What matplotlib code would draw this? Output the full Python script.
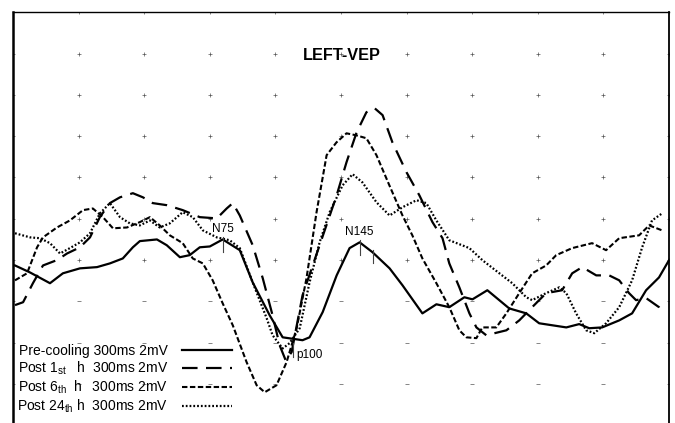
import matplotlib
matplotlib.use("Agg")
import matplotlib.pyplot as plt
import numpy as np

plt.rcParams['font.family'] = ['Liberation Sans', 'DejaVu Sans']
plt.rcParams['mathtext.fontset'] = 'custom'
plt.rcParams['mathtext.rm'] = 'Liberation Sans'

# time in ms (300 ms sweep), amplitude in screen divisions
t_pre = [0.9, 7.8, 16.9, 22.8, 30.6, 38.4, 44.3, 50.2, 54.8, 58.0, 65.8, 70.3,
         76.3, 80.8, 85.4, 90.0, 95.9, 103.7, 109.6, 117.4, 123.3, 132.4, 135.6,
         141.6, 148.0, 153.9, 158.5, 164.4, 172.2, 178.1, 187.2, 193.6, 199.5,
         206.4, 210.1, 216.9, 226.9, 234.7, 240.6, 253.0, 258.9, 263.5, 269.4,
         277.2, 283.1, 289.5, 295.4, 300.0]
y_pre = [3.87, 3.70, 3.44, 3.68, 3.80, 3.83, 3.92, 4.04, 4.31, 4.46, 4.50, 4.36,
         4.07, 4.12, 4.31, 4.33, 4.50, 4.24, 3.46, 2.66, 2.13, 2.06, 2.13,
         2.74, 3.63, 4.29, 4.43, 4.19, 3.80, 3.39, 2.71, 2.93, 2.86,
         3.10, 3.05, 3.27, 2.83, 2.71, 2.47, 2.37, 2.45, 2.35, 2.37,
         2.54, 2.71, 3.27, 3.58, 4.00]

t_1h = [0.9, 4.6, 9.1, 13.7, 20.1, 24.7, 30.6, 35.2, 39.7, 44.3, 48.9, 54.8,
        59.4, 63.9, 70.3, 77.6, 85.4, 93.2, 97.7, 100.5, 103.7, 109.6, 114.2,
        118.7, 121.9, 124.7, 127.4, 132.4, 140.2, 148.0, 152.5, 157.1, 161.6,
        165.3, 169.0, 173.5, 179.9, 185.8, 191.8, 196.4, 199.5, 204.1, 208.7,
        211.9, 216.4, 225.6, 231.5, 237.4, 243.8, 251.1, 255.7, 260.3, 266.7,
        272.6, 277.2, 281.7, 284.9, 289.5, 295.4, 296.8]
y_1h = [2.91, 2.98, 3.44, 3.87, 4.00, 4.16, 4.31, 4.55, 5.04, 5.38, 5.52, 5.62,
        5.52, 5.38, 5.33, 5.21, 5.04, 5.01, 5.25, 5.38, 5.08, 4.36, 3.56,
        2.66, 1.94, 1.57, 1.77, 3.15, 4.36, 5.57, 6.37, 7.09, 7.58,
        7.68, 7.51, 6.85, 6.13, 5.57, 4.92, 4.53, 3.92, 3.34, 2.71,
        2.37, 2.18, 2.30, 2.54, 2.86, 3.20, 3.27, 3.68, 3.83, 3.63,
        3.63, 3.51, 3.20, 3.03, 3.08, 2.86, 2.74]

t_6h = [0.9, 6.4, 11.0, 13.7, 20.1, 26.0, 32.0, 36.5, 41.1, 45.7, 52.1, 58.0,
        62.6, 67.1, 71.7, 77.6, 82.2, 86.8, 91.3, 95.9, 100.5, 106.8, 111.4,
        115.1, 120.5, 125.1, 129.7, 134.2, 138.8, 143.4, 147.9, 152.5, 157.1,
        161.6, 166.2, 172.1, 178.1, 182.6, 187.2, 193.6, 199.5, 204.1, 207.3,
        211.9, 214.6, 221.0, 225.6, 231.5, 237.4, 243.8, 248.4, 255.7, 264.8,
        271.2, 277.2, 286.3, 290.9, 296.8]
y_6h = [3.51, 3.68, 4.31, 4.55, 4.79, 4.96, 5.21, 5.25, 5.04, 4.77, 4.79, 4.92,
        5.04, 4.84, 4.60, 4.41, 4.04, 3.92, 3.51, 2.95, 2.42, 1.53, 0.97,
        0.80, 0.97, 1.53, 2.35, 3.56, 5.16, 6.54, 6.85, 7.07, 7.02,
        6.95, 6.54, 5.81, 5.08, 4.60, 4.04, 3.44, 2.86, 2.30, 2.13,
        2.11, 2.37, 2.37, 2.71, 3.20, 3.68, 3.87, 4.12, 4.29, 4.41,
        4.24, 4.53, 4.60, 4.84, 4.72]

t_24h = [0.9, 7.8, 12.3, 16.9, 21.5, 26.0, 30.6, 35.2, 39.7, 44.3, 48.9, 53.4,
         58.0, 62.6, 67.1, 71.7, 77.6, 82.2, 86.8, 93.2, 99.1, 103.7, 109.6,
         116.0, 118.7, 123.3, 126.5, 131.1, 135.6, 140.2, 144.8, 150.7, 155.3,
         159.8, 166.2, 172.2, 178.1, 184.5, 189.0, 193.6, 199.5, 208.7, 214.6,
         222.4, 228.3, 234.7, 237.4, 243.8, 249.8, 253.0, 257.5, 262.1, 265.8,
         271.2, 277.2, 283.1, 287.7, 292.2, 296.8]
y_24h = [4.65, 4.55, 4.53, 4.41, 4.16, 4.29, 4.43, 4.65, 5.13, 5.38, 5.04, 4.89,
         4.84, 4.96, 4.79, 4.89, 5.16, 5.04, 4.72, 4.55, 4.48, 4.29, 3.46,
         2.59, 2.18, 1.86, 1.99, 2.35, 3.46, 4.43, 5.16, 5.81, 6.08,
         5.88, 5.40, 5.08, 5.28, 5.45, 5.38, 4.96, 4.48, 4.29, 4.00,
         3.68, 3.44, 3.10, 3.03, 3.20, 3.34, 3.20, 2.71, 2.30, 2.23,
         2.47, 2.86, 3.51, 4.31, 4.96, 5.13]

labels = ["Pre-cooling 300ms 2mV",
          r"Post 1$_{\mathrm{st}}$   h  300ms 2mV",
          "Post 6$_{\\mathrm{th}}$  h \u2009 300ms 2mV",
          r"Post 24$_{\mathrm{th}}$ h  300ms 2mV"]

# peak markers: (label, time, amplitude)
peaks = [("N75", 95.9, 4.50), ("p100", 127.9, 1.95), ("N145", 158.5, 4.43)]

fig = plt.figure(figsize=(6.75, 4.23), dpi=100)
ax = fig.add_axes([0.0193, -0.0054, 0.9719, 0.9763])
ax.set_xlim(0, 300)
ax.set_ylim(0, 10)

# dotted screen graticule
gx, gy = np.meshgrid(np.arange(0, 301, 30), np.arange(4, 11))
ax.plot(gx.ravel(), gy.ravel(), '+', color='#555555', ms=3, mew=0.5, zorder=1)
gx, gy = np.meshgrid(np.arange(0, 301, 30), np.arange(0, 4))
ax.plot(gx.ravel(), gy.ravel(), '_', color='#555555', ms=3, mew=0.5, zorder=1)

p1, = ax.plot(t_pre, y_pre, '-', color='black', lw=1.6, label=labels[0])
p2, = ax.plot(t_1h, y_1h, color='black', lw=1.6, ls=(0, (7, 3.8)), label=labels[1])
p3, = ax.plot(t_6h, y_6h, color='black', lw=1.5, ls=(0, (2.6, 1.2)), label=labels[2])
p4, = ax.plot(t_24h, y_24h, color='black', lw=1.6, ls=(0, (0.8, 0.9)), label=labels[3])

for name, t, y in peaks:
    ax.plot([t, t], [y + 0.05, y - 0.3], color='#444444', lw=0.8)
    if name == "p100":
        ax.text(t + 1.5, y - 0.25, name, fontsize=8.5, ha='left', va='center')
    else:
        ax.text(t, y + 0.25, name, fontsize=8.5, ha='center', va='center')
ax.plot([164.4, 164.4], [4.24, 3.92], color='#444444', lw=0.8)

ax.text(150.5, 8.95, "LEFT-VEP", fontsize=11.7, fontweight='bold', ha='center', va='center')

ax.legend(handles=[p1, p2, p3, p4], loc='lower left', bbox_to_anchor=(0.006, 0.024),
          frameon=False, markerfirst=False, fontsize=10, handlelength=3.6,
          handletextpad=1.0, labelspacing=0.13, borderpad=0, borderaxespad=0)

ax.set_xticks([])
ax.set_yticks([])
ax.spines['left'].set_linewidth(1.8)
ax.spines['top'].set_linewidth(1.0)
ax.spines['right'].set_linewidth(1.3)

fig.savefig("out.png", dpi=100)
